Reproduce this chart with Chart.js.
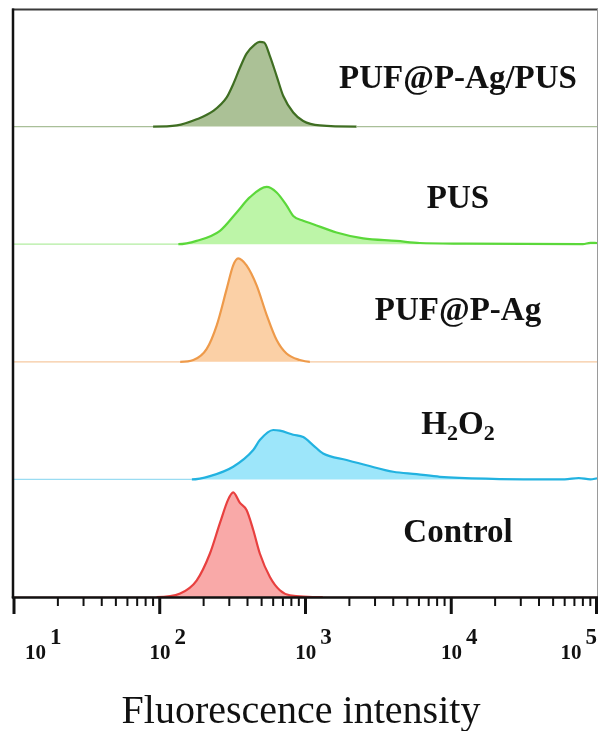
<!DOCTYPE html>
<html>
<head>
<meta charset="utf-8">
<script src="https://cdn.jsdelivr.net/npm/chart.js@4.4.1/dist/chart.umd.min.js"></script>
<style>
  html, body { margin: 0; padding: 0; background: #ffffff; }
  #wrap { width: 598px; height: 731px; }
</style>
</head>
<body>
<div id="wrap"><canvas id="flowChart" width="598" height="731"></canvas></div>
<script>
// Flow cytometry histograms, stacked bottom (Control) to top

const seriesNames = ['Control', 'H2O2', 'PUF@P-Ag', 'PUS', 'PUF@P-Ag/PUS'];

const controlX = [10, 95, 138, 179, 221, 259, 295, 319, 355, 394, 438, 486, 570, 667, 781, 1315, 100000];
const controlY = [0, 0, 0.03, 0.14, 0.37, 0.63, 0.83, 0.89, 0.80, 0.74, 0.57, 0.37, 0.17, 0.057, 0.015, 0, 0];

const h2o2X = [10, 166, 221, 319, 438, 486, 600, 667, 824, 964, 1130, 1321, 1913, 2624, 3997, 5777, 8350, 19270, 60000, 75000, 90000, 100000];
const h2o2Y = [0, 0, 0.028, 0.108, 0.25, 0.335, 0.42, 0.415, 0.38, 0.36, 0.29, 0.22, 0.165, 0.12, 0.065, 0.045, 0.022, 0.005, 0, 0.012, 0, 0.01];

const pufX = [10, 138, 170, 210, 246, 288, 319, 345, 394, 462, 541, 634, 741, 915, 1072, 100000];
const pufY = [0, 0, 0.015, 0.11, 0.31, 0.62, 0.82, 0.88, 0.82, 0.65, 0.40, 0.185, 0.07, 0.015, 0, 0];

const pusX = [10, 134, 179, 259, 337, 416, 541, 634, 741, 824, 964, 1130, 1633, 2489, 4217, 6095, 12000, 80000, 90000, 100000];
const pusY = [0, 0, 0.028, 0.114, 0.27, 0.40, 0.487, 0.44, 0.33, 0.24, 0.20, 0.17, 0.10, 0.049, 0.028, 0.01, 0.005, 0, 0.012, 0.01];

const comboX = [10, 90, 131, 179, 233, 288, 319, 355, 394, 450, 485, 520, 570, 634, 704, 824, 964, 1255, 2240, 100000];
const comboY = [0, 0, 0.01, 0.062, 0.133, 0.248, 0.36, 0.50, 0.62, 0.70, 0.72, 0.715, 0.60, 0.43, 0.26, 0.12, 0.048, 0.01, 0, 0];

const majorTicks = [10, 100, 1000, 10000, 100000];
const tickExponents = ['1', '2', '3', '4', '5'];

const lineColors = ['#e8403f', '#22b2e0', '#ee9a4a', '#5bd83a', '#3f6e22'];
const fillColors = ['#f9a9a8', '#9de6fa', '#fbd0a6', '#bdf5a8', '#abc196'];
const flatColors = ['#f4a0a0', '#9adcf2', '#f6c9a0', '#b2eda0', '#a9bf98'];

const allX = [controlX, h2o2X, pufX, pusX, comboX];
const allY = [controlY, h2o2Y, pufY, pusY, comboY];

// each histogram sits on its own band: band i spans y = i .. i+1
const datasets = seriesNames.map((name, i) => ({
  label: name,
  data: allX[i].map((x, k) => ({ x: x, y: i + allY[i][k] })),
  borderColor: lineColors[i],
  backgroundColor: fillColors[i],
  borderWidth: 2.2,
  fill: { value: i },
  pointRadius: 0,
  cubicInterpolationMode: 'monotone',
  segment: {
    borderColor: c => (c.p0.parsed.y === i && c.p1.parsed.y === i) ? flatColors[i] : undefined,
    borderWidth: c => (c.p0.parsed.y === i && c.p1.parsed.y === i) ? 1.2 : undefined
  }
}));

const serifFont = '"Liberation Serif", "Times New Roman", serif';

const axesPlugin = {
  id: 'axesPlugin',
  afterDatasetsDraw(chart) {
    const ctx = chart.ctx;
    const xs = chart.scales.x;
    const ys = chart.scales.y;
    const { left, right, top, bottom } = chart.chartArea;
    ctx.save();

    // frame
    ctx.strokeStyle = '#3a3a3a';
    ctx.lineWidth = 2;
    ctx.beginPath();
    ctx.moveTo(left - 2, top + 0.5);
    ctx.lineTo(598, top + 0.5);
    ctx.stroke();

    ctx.strokeStyle = '#9a9a9a';
    ctx.lineWidth = 1;
    ctx.beginPath();
    ctx.moveTo(597.5, top);
    ctx.lineTo(597.5, bottom);
    ctx.stroke();

    ctx.strokeStyle = '#111111';
    ctx.lineWidth = 2.5;
    ctx.beginPath();
    ctx.moveTo(left - 1, top - 0.5);
    ctx.lineTo(left - 1, bottom + 1);
    ctx.stroke();

    ctx.beginPath();
    ctx.moveTo(left - 2.2, bottom + 0.5);
    ctx.lineTo(598, bottom + 0.5);
    ctx.stroke();

    // minor ticks
    ctx.lineWidth = 2;
    for (let d = 10; d < 100000; d *= 10) {
      for (let m = 2; m <= 9; m++) {
        const px = xs.getPixelForValue(m * d);
        ctx.beginPath();
        ctx.moveTo(px, bottom);
        ctx.lineTo(px, bottom + 9);
        ctx.stroke();
      }
    }
    // major ticks
    ctx.lineWidth = 3;
    majorTicks.forEach(v => {
      const px = Math.min(xs.getPixelForValue(v), 596.5);
      ctx.beginPath();
      ctx.moveTo(px, bottom);
      ctx.lineTo(px, bottom + 17);
      ctx.stroke();
    });

    // tick labels 10^n
    ctx.fillStyle = '#111111';
    ctx.textBaseline = 'alphabetic';
    ctx.textAlign = 'left';
    const gap = 4;
    majorTicks.forEach((v, i) => {
      ctx.font = 'bold 21px ' + serifFont;
      const w1 = ctx.measureText('10').width;
      ctx.font = 'bold 23px ' + serifFont;
      const w2 = ctx.measureText(tickExponents[i]).width;
      const total = w1 + w2 + gap;
      let x0 = xs.getPixelForValue(v) + 8 - total / 2;
      x0 = Math.max(x0, 25);
      if (x0 + total > 597) x0 = 597 - total;
      ctx.font = 'bold 21px ' + serifFont;
      ctx.fillText('10', x0, 659);
      ctx.font = 'bold 23px ' + serifFont;
      ctx.fillText(tickExponents[i], x0 + w1 + gap, 644);
    });

    // axis title
    ctx.font = '40px ' + serifFont;
    ctx.textAlign = 'center';
    ctx.fillText('Fluorescence intensity', 301, 723);

    // series labels
    const labelLift = [0.47, 0.39, 0.355, 0.31, 0.33];
    const cx = 458;
    seriesNames.forEach((name, i) => {
      const y = ys.getPixelForValue(i + labelLift[i]);
      if (name === 'H2O2') {
        const parts = [['H', 33, 0], ['2', 22, 6], ['O', 33, 0], ['2', 22, 6]];
        let width = 0;
        parts.forEach(p => { ctx.font = 'bold ' + p[1] + 'px ' + serifFont; width += ctx.measureText(p[0]).width; });
        let x = cx - width / 2;
        ctx.textAlign = 'left';
        parts.forEach(p => {
          ctx.font = 'bold ' + p[1] + 'px ' + serifFont;
          ctx.fillText(p[0], x, y + p[2]);
          x += ctx.measureText(p[0]).width;
        });
      } else {
        ctx.font = 'bold 33px ' + serifFont;
        ctx.textAlign = 'center';
        ctx.fillText(name, cx, y);
      }
    });

    ctx.restore();
  }
};

new Chart(document.getElementById('flowChart'), {
  type: 'line',
  data: { datasets: datasets },
  options: {
    responsive: false,
    animation: false,
    devicePixelRatio: 1,
    layout: { padding: { left: 14, right: 1, top: 9, bottom: 134 } },
    plugins: {
      legend: { display: false },
      tooltip: { enabled: false }
    },
    scales: {
      x: { type: 'logarithmic', min: 10, max: 100000, display: false },
      y: { type: 'linear', min: 0, max: 5, display: false }
    }
  },
  plugins: [axesPlugin]
});
</script>
</body>
</html>
